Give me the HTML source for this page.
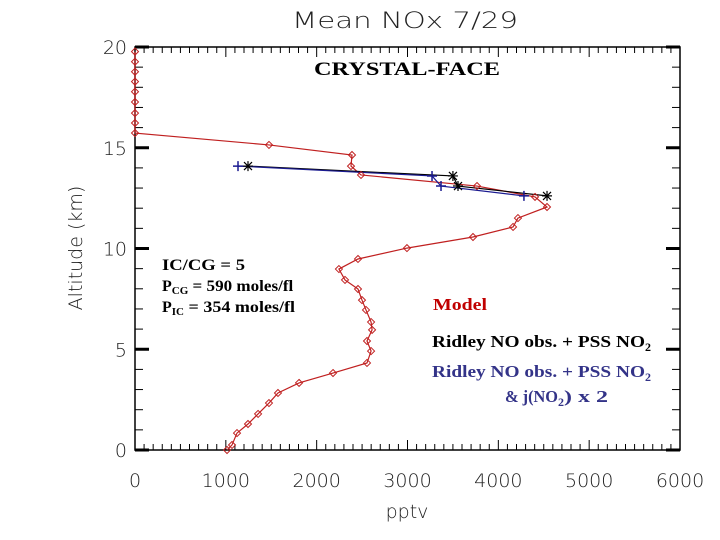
<!DOCTYPE html>
<html><head><meta charset="utf-8"><style>
html,body{margin:0;padding:0;background:#fff;}
svg{display:block;}
.t{font-family:"Liberation Serif",serif;font-weight:bold;}
.a{font-family:"DejaVu Sans","Liberation Sans",sans-serif;font-weight:200;fill:#222;}
</style></head><body>
<svg id="chart" width="720" height="540" xmlns="http://www.w3.org/2000/svg">
<text class="a" x="292" y="28" font-size="22" textLength="226" lengthAdjust="spacingAndGlyphs">Mean NOx 7/29</text>
<text class="a" x="82" y="248" font-size="19" text-anchor="middle" transform="rotate(-90 82 248)">Altitude (km)</text>
<text class="a" x="407" y="518" font-size="19" text-anchor="middle">pptv</text>
<g id="axes"></g>
<g id="series"></g>
<text class="t" x="314" y="75" font-size="19" textLength="186" lengthAdjust="spacingAndGlyphs">CRYSTAL-FACE</text>
<g font-size="16" class="t">
<text x="162" y="270" textLength="83" lengthAdjust="spacingAndGlyphs">IC/CG = 5</text>
<text x="162" y="291">P<tspan font-size="11" dy="3">CG</tspan><tspan dy="-3" textLength="105" lengthAdjust="spacingAndGlyphs"> = 590 moles/fl</tspan></text>
<text x="162" y="312">P<tspan font-size="11" dy="3">IC</tspan><tspan dy="-3" textLength="111" lengthAdjust="spacingAndGlyphs"> = 354 moles/fl</tspan></text>
</g>
<text class="t" x="433" y="310" font-size="17" fill="#c00000" textLength="54" lengthAdjust="spacingAndGlyphs">Model</text>
<text class="t" x="432" y="347" font-size="17" fill="#000"><tspan textLength="213" lengthAdjust="spacingAndGlyphs">Ridley NO obs. + PSS NO</tspan><tspan font-size="12" dy="4">2</tspan></text>
<text class="t" x="432" y="377" font-size="17" fill="#333388"><tspan textLength="213" lengthAdjust="spacingAndGlyphs">Ridley NO obs. + PSS NO</tspan><tspan font-size="12" dy="4">2</tspan></text>
<text class="t" x="505" y="402" font-size="17" fill="#333388"><tspan textLength="53" lengthAdjust="spacingAndGlyphs">&amp; j(NO</tspan><tspan font-size="12" dy="4">2</tspan><tspan dy="-4" textLength="44" lengthAdjust="spacingAndGlyphs">) x 2</tspan></text>
</svg>
<script>
const modelPptv=[0,0,0,0,0,0,0,0,0,1475,2389,2378,2488,3765,4404,4536,4216,4162,3721,2994,2455,2245,2312,2455,2499,2543,2599,2610,2554,2599,2554,2180,1806,1574,1475,1355,1244,1123,1068,1013];
const modelKm=[19.77,19.27,18.77,18.28,17.78,17.27,16.72,16.23,15.73,15.14,14.64,14.09,13.65,13.10,12.56,12.06,11.51,11.07,10.57,10.02,9.48,8.98,8.44,7.99,7.44,6.95,6.35,5.96,5.41,4.91,4.32,3.82,3.33,2.83,2.33,1.79,1.29,0.84,0.25,0];
const obsKm=[14.09,13.60,13.10,12.61];
const pssPptv=[1244,3500,3556,4536];
const pssJ2Pptv=[1134,3270,3369,4282];
const xTicks=[0,1000,2000,3000,4000,5000,6000];
const yTicks=[0,5,10,15,20];
const X0=135,X1=680,Y0=450,Y1=47;
const xs=v=>X0+(v/6000)*(X1-X0);
const ys=v=>Y0-(v/20)*(Y0-Y1);
const NS="http://www.w3.org/2000/svg";
function mk(tag,attrs,parent){const e=document.createElementNS(NS,tag);for(const k in attrs)e.setAttribute(k,attrs[k]);parent.appendChild(e);return e;}
const ax=document.getElementById('axes');
const frame=mk('rect',{x:X0,y:Y1,width:X1-X0,height:Y0-Y1,fill:'none',stroke:'#000','stroke-width':1.5},ax);


for(let v=0;v<=6000;v+=100){const x=xs(v);const L=(v%1000===0)?10:6;
mk('line',{x1:x,y1:Y0,x2:x,y2:Y0-L,stroke:'#000'},ax);mk('line',{x1:x,y1:Y1,x2:x,y2:Y1+L,stroke:'#000'},ax);}
for(let v=0;v<=20;v+=1){const y=ys(v);const L=(v%5===0)?14:8;const w=(v%5===0)?3:1;
mk('line',{x1:X0,y1:y,x2:X0+L,y2:y,stroke:'#000','stroke-width':w},ax);mk('line',{x1:X1,y1:y,x2:X1-L,y2:y,stroke:'#000','stroke-width':w},ax);}
xTicks.forEach(v=>{const t=mk('text',{x:xs(v),y:Y0+37,'font-size':19,'text-anchor':'middle',class:'a'},ax);t.textContent=v;

});
yTicks.forEach(v=>{const t=mk('text',{x:X0-8,y:ys(v)+7,'font-size':19,'text-anchor':'end',class:'a'},ax);t.textContent=v;

});
const sg=document.getElementById('series');
function line(xv,yv,col,name){const p=mk('polyline',{points:xv.map((v,i)=>xs(v)+','+ys(yv[i])).join(' '),fill:'none',stroke:col,'stroke-width':1.2},sg);

}
line(modelPptv,modelKm,'#c02020','model-line');
line(pssPptv,obsKm,'#000','ridley-pss-line');
line(pssJ2Pptv,obsKm,'#1a1a90','ridley-pss-j2-line');
modelPptv.forEach((v,i)=>{const x=xs(v),y=ys(modelKm[i]);
const d=mk('polygon',{points:`${x},${y-3.5} ${x+3.5},${y} ${x},${y+3.5} ${x-3.5},${y}`,fill:'none',stroke:'#c02020','stroke-width':1},sg);

});
pssJ2Pptv.forEach((v,i)=>{const x=xs(v),y=ys(obsKm[i]);
const g=mk('path',{d:`M${x-5},${y}H${x+5}M${x},${y-5}V${y+5}`,stroke:'#1a1a90','stroke-width':1.5},sg);

});
pssPptv.forEach((v,i)=>{const x=xs(v),y=ys(obsKm[i]);
const g=mk('path',{d:`M${x-5},${y}H${x+5}M${x},${y-5}V${y+5}M${x-4},${y-4}L${x+4},${y+4}M${x-4},${y+4}L${x+4},${y-4}`,stroke:'#000','stroke-width':1.2},sg);

});
</script>
</body></html>
